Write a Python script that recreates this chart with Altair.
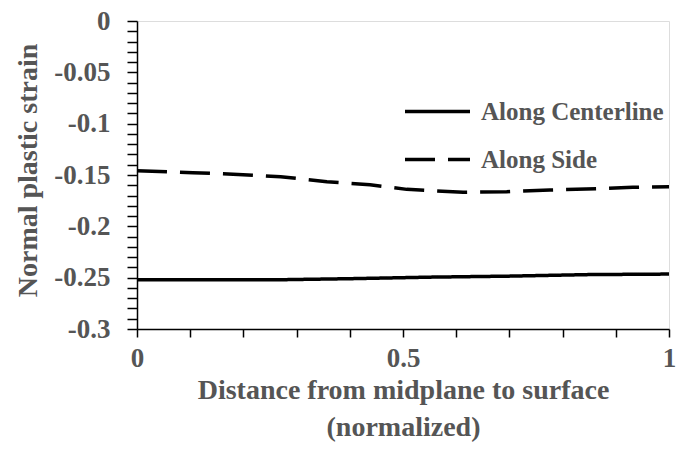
import altair as alt
import pandas as pd

# Along Centerline
center_x = [0.0, 0.15, 0.27, 0.4, 0.55, 0.7, 0.85, 1.0]
center_y = [-0.252, -0.252, -0.252, -0.251, -0.2495, -0.2485, -0.247, -0.2465]

# Along Side
side_x = [0.0, 0.105, 0.19, 0.27, 0.357, 0.438, 0.507, 0.532, 0.613, 0.695, 0.776, 0.864, 0.932, 1.0]
side_y = [-0.1458, -0.1478, -0.1494, -0.1517, -0.1565, -0.1595, -0.164, -0.1646, -0.1669,
          -0.1663, -0.1646, -0.1634, -0.162, -0.1614]

series_names = ["Along Centerline", "Along Side"]

y_ticks = [round(-i * 0.01, 2) for i in range(0, 31)]
x_ticks = [round(i * 0.1, 1) for i in range(0, 11)]

df = pd.concat([
    pd.DataFrame({"x": center_x, "y": center_y, "s": series_names[0]}),
    pd.DataFrame({"x": side_x, "y": side_y, "s": series_names[1]}),
])

FONT = "Liberation Serif"
GRAY = "#555555"

chart = alt.Chart(df).mark_line(strokeWidth=3.5, color="black").encode(
    x=alt.X("x:Q", scale=alt.Scale(domain=[0, 1], nice=False),
            axis=alt.Axis(values=x_ticks, grid=False, tickSize=8, tickWidth=1.5,
                          tickColor="black", domainColor="black", domainWidth=1.5,
                          labelExpr="(round(datum.value*10) % 5 == 0) ? toString(round(datum.value*10)/10) : ''",
                          labelFont=FONT, labelFontWeight="bold", labelFontSize=27,
                          labelColor=GRAY, labelPadding=8, labelFlush=False,
                          title=["Distance from midplane to surface", "(normalized)"],
                          titleFont=FONT, titleFontWeight="bold", titleFontSize=28,
                          titleColor=GRAY, titleLineHeight=37, titleY=47,
                          titleBaseline="top", titleAlign="center")),
    y=alt.Y("y:Q", scale=alt.Scale(domain=[-0.3, 0], nice=False, zero=False),
            axis=alt.Axis(values=y_ticks, grid=False, tickSize=10, tickWidth=1.5,
                          tickColor="black", domainColor="black", domainWidth=1.5,
                          labelExpr="(round(datum.value*100) % 5 == 0) ? toString(round(datum.value*100)/100) : ''",
                          labelFont=FONT, labelFontWeight="bold", labelFontSize=27,
                          labelColor=GRAY, labelPadding=17, labelOverlap=False,
                          labelBound=False,
                          title="Normal plastic strain",
                          titleFont=FONT, titleFontWeight="bold", titleFontSize=28,
                          titleColor=GRAY, titleAngle=-90, titleX=-109, titleY=149,
                          titleAlign="center", titleBaseline="middle")),
    strokeDash=alt.StrokeDash("s:N",
                              scale=alt.Scale(domain=series_names, range=[[1, 0], [30, 13]]),
                              legend=alt.Legend(title=None, orient="none", legendX=266, legendY=56,
                                                symbolType="stroke", symbolSize=4225,
                                                symbolStrokeWidth=3.5, symbolStrokeColor="black",
                                                labelFont=FONT, labelFontWeight="bold",
                                                labelFontSize=25, labelColor=GRAY,
                                                labelOffset=9, rowPadding=-22,
                                                labelLimit=400)),
).properties(
    width=532, height=308,
    autosize=alt.AutoSizeParams(type="none"),
    padding={"left": 137, "top": 21, "right": 9, "bottom": 120},
).configure_view(
    stroke="black", strokeWidth=1.5
).configure(background="white")

chart.save("out.html", embed_options={"renderer": "svg", "actions": False})
